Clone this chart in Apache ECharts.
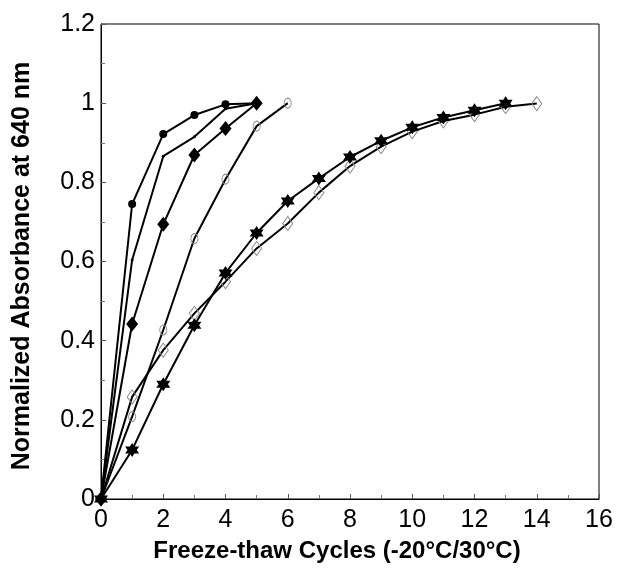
<!DOCTYPE html>
<html>
<head>
<meta charset="utf-8">
<script src="https://cdn.jsdelivr.net/npm/echarts@6/dist/echarts.min.js"></script>
<style>
  html, body { margin: 0; padding: 0; background: #fff; }
  #chart { width: 621px; height: 576px; }
</style>
</head>
<body>
<div id="chart"></div>
<script>
// ---- Data ----
const xTitle = 'Freeze-thaw Cycles (-20°C/30°C)';
const yTitle = 'Normalized Absorbance at 640 nm';

const cyclesA = [0, 1, 2, 3, 4, 5];
const valuesA = [0, 0.745, 0.922, 0.970, 0.997, 1.0];       // filled circles

const cyclesB = [0, 1, 2, 3, 4, 5];
const valuesB = [0, 0.604, 0.866, 0.915, 0.986, 1.0];       // small dots

const cyclesC = [0, 1, 2, 3, 4, 5];
const valuesC = [0, 0.442, 0.694, 0.869, 0.936, 1.0];       // filled diamonds

const cyclesD = [0, 1, 2, 3, 4, 5, 6];
const valuesD = [0, 0.208, 0.427, 0.658, 0.808, 0.942, 1.0]; // open circles

const cyclesE = [0, 1, 2, 3, 4, 5, 6, 7, 8, 9, 10, 11, 12, 13];
const valuesE = [0, 0.124, 0.290, 0.439, 0.571, 0.672, 0.753, 0.810, 0.864, 0.905, 0.939, 0.964, 0.982, 1.0]; // stars

const cyclesF = [0, 1, 2, 3, 4, 5, 6, 7, 8, 9, 10, 11, 12, 13, 14];
const valuesF = [0, 0.258, 0.376, 0.469, 0.549, 0.633, 0.696, 0.774, 0.841, 0.890, 0.928, 0.955, 0.971, 0.991, 0.999]; // open diamonds

const xTicks = [0, 2, 4, 6, 8, 10, 12, 14, 16];
const yTicks = [0, 0.2, 0.4, 0.6, 0.8, 1, 1.2];

// ---- helpers ----
function pairs(xs, ys) { return xs.map((x, i) => [x, ys[i]]); }

const STAR = 'path://M0,-10L8.66,5L-8.66,5Z M0,10L-8.66,-5L8.66,-5Z';
const lineStyle = { color: '#000', width: 2 };

function makeSeries(xs, ys, symbol, size, itemStyle, z) {
  return {
    type: 'line',
    data: pairs(xs, ys),
    symbol: symbol,
    symbolSize: size,
    showAllSymbol: true,
    lineStyle: lineStyle,
    itemStyle: itemStyle,
    emphasis: { disabled: true },
    animation: false,
    z: z
  };
}

const filled = { color: '#000', borderColor: '#000', borderWidth: 0 };
const hollow = { color: 'rgba(255,255,255,0)', borderColor: '#8a8a8a', borderWidth: 1 };

const chart = echarts.init(document.getElementById('chart'), null, { renderer: 'canvas' });

chart.setOption({
  backgroundColor: '#fff',
  animation: false,
  grid: {
    left: 101, top: 24, right: 22, bottom: 77,
    show: true, borderColor: '#000', borderWidth: 1, backgroundColor: 'transparent'
  },
  xAxis: {
    type: 'value',
    min: xTicks[0], max: xTicks[xTicks.length - 1], interval: 2,
    axisLine: { show: true, lineStyle: { color: '#000', width: 1 } },
    axisTick: { show: true, inside: true, length: 5, lineStyle: { color: '#555' } },
    minorTick: { show: true, splitNumber: 2, length: 4, lineStyle: { color: '#777' } },
    splitLine: { show: false },
    axisLabel: { color: '#000', fontFamily: 'Liberation Sans, Arial, sans-serif', fontSize: 25, margin: 9 }
  },
  yAxis: {
    type: 'value',
    min: yTicks[0], max: yTicks[yTicks.length - 1], interval: 0.2,
    axisLine: { show: true, lineStyle: { color: '#000', width: 1 } },
    axisTick: { show: true, inside: true, length: 5, lineStyle: { color: '#555' } },
    minorTick: { show: true, splitNumber: 2, length: 4, lineStyle: { color: '#777' } },
    splitLine: { show: false },
    axisLabel: { color: '#000', fontFamily: 'Liberation Sans, Arial, sans-serif', fontSize: 25, margin: 6 }
  },
  graphic: [
    {
      type: 'text',
      x: 337, y: 551,
      style: {
        text: xTitle,
        font: 'bold 24px "Liberation Sans", Arial, sans-serif',
        fill: '#000', align: 'center', verticalAlign: 'middle'
      }
    },
    {
      type: 'text',
      x: 22, y: 266,
      rotation: Math.PI / 2,
      style: {
        text: yTitle,
        font: 'bold 25px "Liberation Sans", Arial, sans-serif',
        fill: '#000', align: 'center', verticalAlign: 'middle'
      }
    }
  ],
  series: [
    makeSeries(cyclesF, valuesF, 'diamond', [10, 14], hollow, 2),
    makeSeries(cyclesE, valuesE, STAR, 14, filled, 3),
    makeSeries(cyclesD, valuesD, 'circle', [7, 10], hollow, 4),
    makeSeries(cyclesC, valuesC, 'diamond', [12, 15], filled, 5),
    makeSeries(cyclesB, valuesB, 'circle', 3, filled, 6),
    makeSeries(cyclesA, valuesA, 'circle', 8, filled, 7)
  ]
});
</script>
</body>
</html>
